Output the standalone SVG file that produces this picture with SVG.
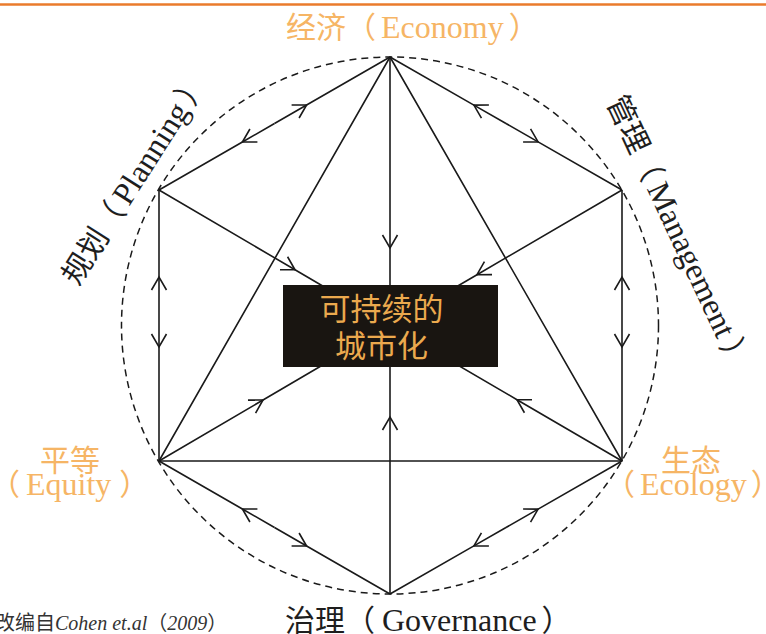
<svg xmlns="http://www.w3.org/2000/svg" width="766" height="634" viewBox="0 0 766 634">
<style>
.ln{fill:none;stroke:#1a1a1a;stroke-width:1.6;stroke-linejoin:round}
.ar{marker-mid:url(#chev)}
.lbl{font-family:"Liberation Serif","Noto Sans CJK SC",serif;font-size:30px;fill:#f6b565}
.blk{font-family:"Liberation Serif","Noto Sans CJK SC",serif;font-size:30px;fill:#1e1e1e}
.lat{font-size:32px}
.ctr{font-family:"Noto Sans CJK SC",sans-serif;font-size:31px;fill:#eba94e}
.cite{font-family:"Liberation Serif","Noto Sans CJK SC",serif;font-size:20px;fill:#333}
</style>
<defs>
<marker id="chev" markerUnits="userSpaceOnUse" orient="auto" markerWidth="30" markerHeight="30" refX="0" refY="0" overflow="visible">
<path d="M-13,-7.5 L0,0 L-13,7.5" fill="none" stroke="#1a1a1a" stroke-width="1.6"/>
</marker>
</defs>
<rect width="766" height="634" fill="#ffffff"/>
<line x1="0" y1="4.5" x2="766" y2="4.5" stroke="#ea7b2c" stroke-width="2.6"/>
<circle cx="390" cy="325.5" r="268.5" fill="none" stroke="#1a1a1a" stroke-width="1.5" stroke-dasharray="7 5"/>
<g id="connectors">
<path class="ln ar" d="M274.5,123.5 L306.6,105 L390,57"/>
<path class="ln ar" d="M274.5,123.5 L242.4,142 L159,190"/>
<path class="ln ar" d="M506,123.5 L473.9,105.1 L390,57"/>
<path class="ln ar" d="M506,123.5 L538.1,141.9 L622,190"/>
<path class="ln ar" d="M622,312 L622,277 L622,190"/>
<path class="ln ar" d="M622,312 L622,347 L622,461"/>
<path class="ln ar" d="M159,312 L159,277 L159,190"/>
<path class="ln ar" d="M159,312 L159,347 L159,461"/>
<path class="ln ar" d="M274.5,527.5 L242.4,509 L159,461"/>
<path class="ln ar" d="M274.5,527.5 L306.6,546 L390,594"/>
<path class="ln ar" d="M506,527.5 L538.1,509.1 L622,461"/>
<path class="ln ar" d="M506,527.5 L473.9,545.9 L390,594"/>
<path class="ln" d="M390,57 L159,461 L622,461 Z"/>
<path class="ln ar" d="M390,57 L390,248 L390,325"/>
<path class="ln ar" d="M390,594 L390,417 L390,325"/>
<path class="ln ar" d="M159,190 L295,269.8 L390,325.5"/>
<path class="ln ar" d="M622,190 L477,274.7 L390,325.5"/>
<path class="ln ar" d="M159,461 L263,400 L390,325.5"/>
<path class="ln ar" d="M622,461 L517,399.7 L390,325.5"/>
</g>
<g id="node-center">
<rect x="283" y="285" width="215" height="82" fill="#191511"/>
<text class="ctr" x="381.5" y="320" text-anchor="middle">可持续的</text>
<text class="ctr" x="381.5" y="357" text-anchor="middle">城市化</text>
</g>
<g id="node-economy">
<text class="lbl" x="286" y="38">经济（<tspan class="lat" dx="5">Economy</tspan><tspan dx="5">）</tspan></text>
</g>
<g id="node-management">
<text class="blk" transform="translate(606,101.5) rotate(65)">管理（<tspan class="lat" dx="6">Management</tspan><tspan dx="6">）</tspan></text>
</g>
<g id="node-ecology">
<text class="lbl" x="691" y="471" text-anchor="middle">生态</text>
<text class="lbl" x="605" y="495">（<tspan class="lat" dx="5">Ecology</tspan><tspan dx="4">）</tspan></text>
</g>
<g id="node-governance">
<text class="blk" x="285" y="631">治理（<tspan class="lat" dx="7">Governance</tspan><tspan dx="5">）</tspan></text>
</g>
<g id="node-equity">
<text class="lbl" x="70" y="471" text-anchor="middle">平等</text>
<text class="lbl" x="-10" y="495">（<tspan class="lat" dx="6">Equity</tspan><tspan dx="8">）</tspan></text>
</g>
<g id="node-planning">
<text class="blk" transform="translate(78,287) rotate(-57.5)">规划（<tspan class="lat" dx="5">Planning</tspan><tspan dx="5">）</tspan></text>
</g>
<g id="source">
<text class="cite" x="-5" y="630">改编自<tspan font-style="italic">Cohen et.al</tspan>（<tspan font-style="italic">2009</tspan>）</text>
</g>
</svg>
